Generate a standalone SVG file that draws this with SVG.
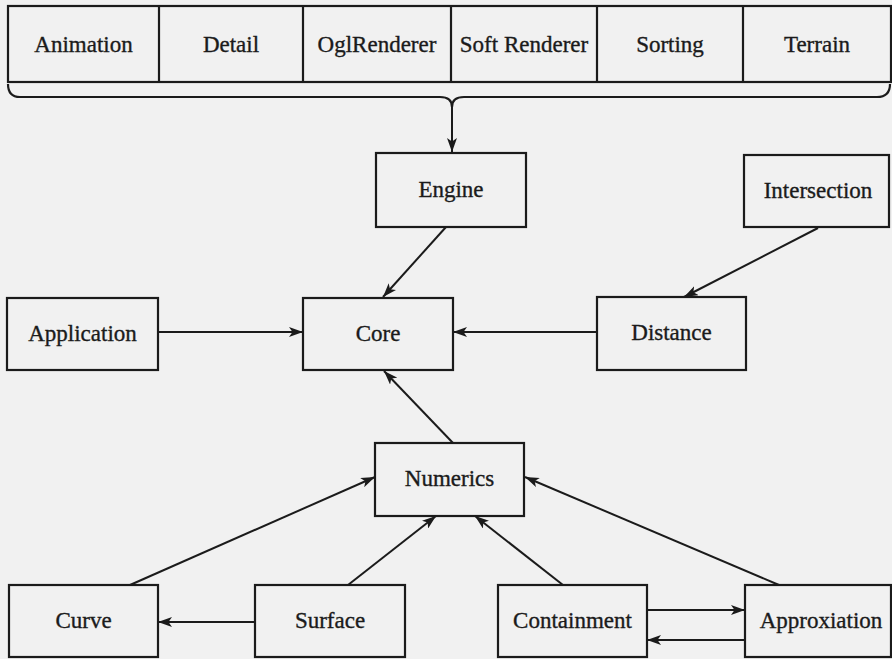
<svg xmlns="http://www.w3.org/2000/svg" width="892" height="659" viewBox="0 0 892 659">
  <style>
    .box { fill: none; stroke: #1b1b1b; stroke-width: 2.2; }
    .lbl { font-family: "Liberation Serif", "Times New Roman", serif; font-size: 23px; fill: #1b1b1b; stroke: #1b1b1b; stroke-width: 0.35; text-anchor: middle; }
    .edge { fill: none; stroke: #1b1b1b; stroke-width: 2; marker-end: url(#head); }
  </style>
  <defs>
    <marker id="head" viewBox="0 0 14 10" refX="14" refY="5" markerWidth="14" markerHeight="10" markerUnits="userSpaceOnUse" orient="auto">
      <path d="M0,0 L14,5 L0,10 L3.5,5 z" fill="#1b1b1b"/>
    </marker>
  </defs>

  <rect x="0" y="0" width="892" height="659" fill="#f1f1f1"/>

  <!-- module strip along the top -->
  <g id="modules">
    <rect class="box" x="8" y="6" width="883" height="76"/>
    <line class="box" x1="159" y1="6" x2="159" y2="82"/>
    <line class="box" x1="303" y1="6" x2="303" y2="82"/>
    <line class="box" x1="451" y1="6" x2="451" y2="82"/>
    <line class="box" x1="597" y1="6" x2="597" y2="82"/>
    <line class="box" x1="743" y1="6" x2="743" y2="82"/>
    <g id="animation"><text class="lbl" x="83.5" y="51.5">Animation</text></g>
    <g id="detail"><text class="lbl" x="231" y="51.5">Detail</text></g>
    <g id="oglrenderer"><text class="lbl" x="377" y="51.5">OglRenderer</text></g>
    <g id="softrenderer"><text class="lbl" x="524" y="51.5">Soft Renderer</text></g>
    <g id="sorting"><text class="lbl" x="670" y="51.5">Sorting</text></g>
    <g id="terrain"><text class="lbl" x="817" y="51.5">Terrain</text></g>
  </g>

  <g id="engine">
    <rect class="box" x="376" y="153" width="150" height="74"/>
    <text class="lbl" x="451" y="196.5">Engine</text>
  </g>
  <g id="intersection">
    <rect class="box" x="744" y="155" width="145" height="72"/>
    <text class="lbl" x="818" y="197.5">Intersection</text>
  </g>
  <g id="application">
    <rect class="box" x="7" y="298" width="151" height="72"/>
    <text class="lbl" x="82.5" y="340.5">Application</text>
  </g>
  <g id="core">
    <rect class="box" x="303" y="298" width="150" height="72"/>
    <text class="lbl" x="378" y="340.5">Core</text>
  </g>
  <g id="distance">
    <rect class="box" x="597" y="297" width="149" height="73"/>
    <text class="lbl" x="671.5" y="340">Distance</text>
  </g>
  <g id="numerics">
    <rect class="box" x="375" y="443" width="149" height="73"/>
    <text class="lbl" x="449.5" y="486">Numerics</text>
  </g>
  <g id="curve">
    <rect class="box" x="9" y="585" width="149" height="72"/>
    <text class="lbl" x="83.5" y="627.5">Curve</text>
  </g>
  <g id="surface">
    <rect class="box" x="255" y="585" width="150" height="72"/>
    <text class="lbl" x="330" y="627.5">Surface</text>
  </g>
  <g id="containment">
    <rect class="box" x="498" y="585" width="149" height="72"/>
    <text class="lbl" x="572.5" y="627.5">Containment</text>
  </g>
  <g id="approxiation">
    <rect class="box" x="745" y="585" width="146" height="72"/>
    <text class="lbl" x="821" y="627.5">Approxiation</text>
  </g>

  <g id="connectors">
    <!-- brace gathering the strip into Engine -->
    <path class="box" d="M8,84 Q8,97 20,97 L440,97 Q452,97 452,107 Q452,97 464,97 L877,97 Q890,97 890,84"/>
    <path class="edge" d="M452,106 L452,152"/>
    <path class="edge" d="M446,227 L383,297"/>
    <path class="edge" d="M818,228 L684,297"/>
    <path class="edge" d="M158,332 L303,332"/>
    <path class="edge" d="M597,332 L453,332"/>
    <path class="edge" d="M453,443 L384,371"/>
    <path class="edge" d="M130,585 L375,477"/>
    <path class="edge" d="M348,585 L436,516"/>
    <path class="edge" d="M563,585 L475,516"/>
    <path class="edge" d="M779,585 L525,477"/>
    <path class="edge" d="M255,622 L158,622"/>
    <path class="edge" d="M647,610 L745,610"/>
    <path class="edge" d="M745,640 L647,640"/>
  </g>
</svg>
